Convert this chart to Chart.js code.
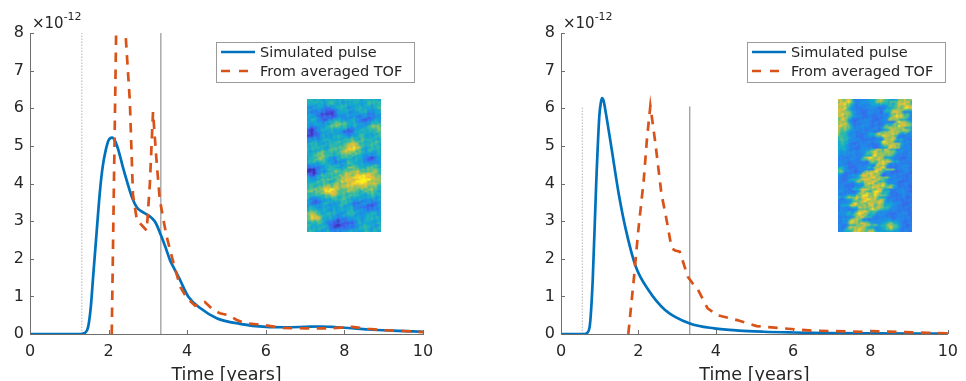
<!DOCTYPE html>
<html>
<head>
<meta charset="utf-8">
<script src="https://cdn.jsdelivr.net/npm/chart.js@4.4.1/dist/chart.umd.min.js"></script>
<style>
  body { margin: 0; background: #fff; }
  #wrap { position: relative; width: 966px; height: 381px; overflow: hidden; }
  canvas { position: absolute; top: 0; }
  #left { left: 0; }
  #right { left: 483px; }
</style>
</head>
<body>
<div id="wrap">
  <canvas id="left" width="483" height="381"></canvas>
  <canvas id="right" width="483" height="381"></canvas>
</div>
<script>
// axis ticks and legend names
const xTicks = [0, 2, 4, 6, 8, 10];
const yTicks = [0, 1, 2, 3, 4, 5, 6, 7, 8];
const seriesNames = ['Simulated pulse', 'From averaged TOF'];

// case A: smooth field
const simTimeA  = [0, 1.3, 1.4, 1.48, 1.55, 1.6, 1.7, 1.78, 1.85, 1.93, 2.0, 2.09, 2.17, 2.26, 2.36, 2.47, 2.6, 2.72, 2.85, 2.97, 3.1, 3.2, 3.33, 3.45, 3.56, 3.7, 3.82, 4.03, 4.33, 4.75, 5.34, 6.0, 6.5, 7.0, 7.4, 7.8, 8.1, 8.6, 9.2, 10];
const simValueA = [0, 0, 0.03, 0.19, 0.75, 1.43, 2.77, 3.8, 4.45, 4.9, 5.15, 5.22, 5.12, 4.85, 4.45, 4.05, 3.62, 3.36, 3.25, 3.18, 3.08, 2.95, 2.63, 2.3, 1.97, 1.68, 1.43, 0.99, 0.69, 0.42, 0.27, 0.19, 0.18, 0.19, 0.2, 0.18, 0.16, 0.12, 0.09, 0.06];
const tofTimeA  = [2.08, 2.2, 2.32, 2.54, 2.62, 2.72, 2.88, 2.97, 3.05, 3.13, 3.22, 3.3, 3.4, 3.48, 3.65, 3.82, 3.99, 4.2, 4.45, 4.65, 4.83, 5.05, 5.25, 5.45, 5.93, 6.44, 7.0, 7.6, 8.2, 8.6, 9.0, 9.5, 10];
const tofValueA = [0, 8.6, 9.8, 6.2, 3.7, 3.03, 2.85, 2.75, 4.0, 5.9, 4.6, 3.6, 3.0, 2.58, 1.89, 1.26, 0.96, 0.75, 0.85, 0.65, 0.55, 0.5, 0.38, 0.29, 0.24, 0.16, 0.15, 0.15, 0.19, 0.14, 0.1, 0.08, 0.05];
const markTimeA = [1.32, 3.33];
const markTopA = 8.6;

// case B: channelized field
const simTimeB  = [0, 0.6, 0.66, 0.74, 0.82, 0.91, 0.99, 1.03, 1.06, 1.1, 1.16, 1.25, 1.33, 1.42, 1.5, 1.67, 1.93, 2.26, 2.69, 3.33, 3.96, 4.6, 5.23, 6.0, 6.9, 8.0, 10];
const simValueB = [0, 0, 0.02, 0.19, 1.43, 4.0, 5.78, 6.15, 6.27, 6.2, 5.87, 5.3, 4.78, 4.18, 3.68, 2.8, 1.8, 1.17, 0.64, 0.28, 0.15, 0.09, 0.06, 0.04, 0.025, 0.015, 0.01];
const tofTimeB  = [1.74, 1.88, 2.0, 2.14, 2.22, 2.31, 2.44, 2.6, 2.7, 2.86, 2.95, 3.07, 3.28, 3.45, 3.54, 3.79, 4.05, 4.55, 5.06, 5.74, 6.5, 7.78, 8.0, 9.47, 10];
const tofValueB = [0, 1.43, 2.77, 4.1, 5.16, 6.06, 5.07, 3.7, 3.2, 2.28, 2.22, 2.19, 1.52, 1.28, 1.18, 0.68, 0.5, 0.37, 0.21, 0.15, 0.09, 0.06, 0.08, 0.03, 0.02];
const markTimeB = [0.55, 3.33];
const markTopB = 6.05;

const textColor = '#262626';
const axisColor = '#6e6e6e';
const fontFamily = '"DejaVu Sans", sans-serif';
const blue = '#0072BD';
const orange = '#D95319';

function toPoints(xs, ys) {
    return xs.map((x, i) => ({ x: x, y: ys[i] }));
}

// parula-like colour ramp for the permeability insets
const ramp = [
    [0.00, 62, 38, 168],
    [0.15, 70, 85, 235],
    [0.30, 35, 135, 235],
    [0.45, 15, 170, 210],
    [0.60, 55, 190, 160],
    [0.75, 160, 195, 85],
    [0.88, 240, 190, 55],
    [1.00, 250, 245, 25]
];

function rampColor(t) {
    t = Math.max(0, Math.min(1, t));
    for (let i = 1; i < ramp.length; i++) {
        if (t <= ramp[i][0]) {
            const a = ramp[i - 1], b = ramp[i];
            const f = (t - a[0]) / (b[0] - a[0]);
            return [0, 1, 2].map(k => Math.round(a[k + 1] + (b[k + 1] - a[k + 1]) * f));
        }
    }
    return ramp[ramp.length - 1].slice(1);
}

// layered sine texture, coarse to fine
function grain(x, y) {
    const n1 = Math.sin(0.31 * x + 0.7 * Math.sin(0.23 * y)) * Math.cos(0.27 * y + 0.9 * Math.sin(0.19 * x));
    const n2 = Math.sin(0.83 * x + 0.41 * y + 1.3) * Math.cos(0.67 * y - 0.52 * x + 0.4);
    const n3 = Math.sin(1.9 * x + 2.3 * Math.sin(0.9 * y)) * Math.sin(2.2 * y + 1.7 * Math.cos(1.1 * x));
    const n4 = Math.sin(1.37 * x - 0.9 * y + 2.1 * Math.cos(0.53 * y)) * Math.cos(1.61 * y + 0.7 * x);
    return 0.45 * n1 + 0.4 * n2 + 0.35 * n3 + 0.3 * n4;
}

function blob(x, y, cx, cy, rx, ry) {
    const dx = (x - cx) / rx, dy = (y - cy) / ry;
    return Math.exp(-(dx * dx + dy * dy));
}

// smooth gaussian-like field
function fieldA(x, y) {
    let v = 0.49;
    v -= 0.4 * blob(x, y, 19, 15, 13, 7);
    v -= 0.36 * blob(x, y, 6, 34, 10, 7);
    v -= 0.48 * blob(x, y, 4, 72, 8, 6);
    v -= 0.28 * blob(x, y, 60, 19, 16, 6);
    v -= 0.25 * blob(x, y, 39, 33, 10, 5);
    v -= 0.28 * blob(x, y, 62, 61, 12, 6);
    v -= 0.4 * blob(x, y, 34, 126, 14, 7);
    v -= 0.3 * blob(x, y, 58, 108, 14, 6);
    v -= 0.22 * blob(x, y, 10, 104, 10, 6);
    v -= 0.18 * blob(x, y, 30, 62, 8, 5);
    v += 0.42 * blob(x, y, 44, 50, 10, 8);
    v += 0.5 * blob(x, y, 55, 81, 22, 10);
    v += 0.42 * blob(x, y, 22, 92, 14, 6);
    v += 0.42 * blob(x, y, 8, 119, 7, 5);
    v += 0.25 * blob(x, y, 34, 26, 8, 4);
    v += 0.22 * blob(x, y, 70, 28, 7, 4);
    v += 0.18 * blob(x, y, 12, 58, 10, 6);
    return v + 0.2 * grain(x, y);
}

// channel centre line, piecewise in depth
const channelRows = [0, 20, 45, 65, 80, 100, 122, 133];
const channelCols = [64, 62, 50, 40, 35, 32, 22, 20];

function channelCentre(y) {
    for (let i = 1; i < channelRows.length; i++) {
        if (y <= channelRows[i]) {
            const f = (y - channelRows[i - 1]) / (channelRows[i] - channelRows[i - 1]);
            return channelCols[i - 1] + (channelCols[i] - channelCols[i - 1]) * f;
        }
    }
    return channelCols[channelCols.length - 1];
}

function fieldB(x, y) {
    let v = 0.28 + 0.1 * grain(x, y);
    const c = channelCentre(y) + 4 * Math.sin(y * 0.3) + 3 * Math.sin(y * 0.8 + 1) + 1.5 * Math.sin(y * 1.7);
    const w = 11 + 3 * Math.sin(y * 0.25) + 2 * Math.sin(y * 0.7 + 2) + 8 * blob(0, y, 0, 98, 1, 12);
    const d = Math.abs(x - c + 2.5 * Math.sin(x * 0.6 + y * 0.4)) / w;
    let band = Math.exp(-Math.pow(d, 4));
    // second channel hugging the left edge near the top
    const c2 = 5 - y * 0.08 + 2 * Math.sin(y * 0.5);
    band = Math.max(band, Math.exp(-Math.pow(Math.abs(x - c2) / 9, 4)) * Math.min(1, Math.max(0, 1.6 - y / 40)));
    band = Math.max(band, 0.9 * blob(x, y, 42, 2, 10, 4));
    band = Math.max(band, 0.95 * blob(x, y, 52, 128, 8, 5));
    band = Math.max(band, 0.85 * blob(x, y, 2, 72, 4, 3));
    v += band * (0.52 + 0.22 * grain(x * 1.3 + 7, y * 1.1 + 3));
    return v;
}

function makeInset(field) {
    const w = 37, h = 67;
    const off = document.createElement('canvas');
    off.width = w; off.height = h;
    const octx = off.getContext('2d');
    const img = octx.createImageData(w, h);
    for (let j = 0; j < h; j++) {
        for (let i = 0; i < w; i++) {
            const col = rampColor(field(i * 2 + 1, j * 2 + 1));
            const k = (j * w + i) * 4;
            img.data[k] = col[0]; img.data[k + 1] = col[1]; img.data[k + 2] = col[2]; img.data[k + 3] = 255;
        }
    }
    octx.putImageData(img, 0, 0);
    return off;
}

const insetPlugin = {
    id: 'inset',
    afterDatasetsDraw(chart, args, opts) {
        const { ctx, chartArea } = chart;
        ctx.save();
        ctx.imageSmoothingEnabled = true;
        ctx.drawImage(opts.image, chartArea.left + 277, chartArea.top + 66, 74, 133);
        ctx.restore();
    }
};

// MATLAB style ticks pointing into the axes
const inwardTicks = {
    id: 'inwardTicks',
    afterDatasetsDraw(chart) {
        const { ctx, chartArea, scales } = chart;
        ctx.save();
        ctx.strokeStyle = axisColor;
        ctx.lineWidth = 1;
        ctx.beginPath();
        xTicks.forEach(t => {
            const px = Math.round(scales.x.getPixelForValue(t)) + 0.5;
            ctx.moveTo(px, chartArea.bottom);
            ctx.lineTo(px, chartArea.bottom - 4);
        });
        yTicks.forEach(t => {
            const py = Math.round(scales.y.getPixelForValue(t)) + 0.5;
            ctx.moveTo(chartArea.left, py);
            ctx.lineTo(chartArea.left + 4, py);
        });
        ctx.stroke();

        // exponent above the y axis
        ctx.fillStyle = textColor;
        ctx.textBaseline = 'alphabetic';
        ctx.font = '15px ' + fontFamily;
        ctx.fillText('×10', chartArea.left + 2, 28);
        const w = ctx.measureText('×10').width;
        ctx.font = '11px ' + fontFamily;
        ctx.fillText('-12', chartArea.left + 2 + w, 20);
        ctx.restore();
    }
};

const legendBox = {
    id: 'legendBox',
    afterDraw(chart) {
        const { ctx, chartArea } = chart;
        const sets = chart.data.datasets;
        const x0 = chartArea.left + 186, y0 = chartArea.top + 9;
        ctx.save();
        ctx.fillStyle = '#fff';
        ctx.fillRect(x0, y0, 198, 40);
        ctx.strokeStyle = '#9a9a9a';
        ctx.lineWidth = 1;
        ctx.strokeRect(x0 + 0.5, y0 + 0.5, 198, 40);
        ctx.font = '14.5px ' + fontFamily;
        ctx.textBaseline = 'middle';
        [0, 1].forEach(i => {
            const y = y0 + 10 + i * 19;
            ctx.strokeStyle = sets[i].borderColor;
            ctx.lineWidth = 2.5;
            ctx.setLineDash(i === 1 ? [9, 9] : []);
            ctx.beginPath();
            ctx.moveTo(x0 + 5, y);
            ctx.lineTo(x0 + 39, y);
            ctx.stroke();
            ctx.setLineDash([]);
            ctx.fillStyle = textColor;
            ctx.fillText(sets[i].label, x0 + 44, y + 1);
        });
        ctx.restore();
    }
};

function makeChart(id, sim, tof, marks, markTop, field, pad) {
    const tickFont = { family: fontFamily, size: 16 };
    return new Chart(document.getElementById(id), {
        type: 'line',
        data: {
            datasets: [
                {
                    label: seriesNames[0], data: sim, borderColor: blue, borderWidth: 2.7,
                    cubicInterpolationMode: 'monotone', pointRadius: 0, order: 1
                },
                {
                    label: seriesNames[1], data: tof, borderColor: orange, borderWidth: 2.7,
                    borderDash: [9.5, 7.5], tension: 0, pointRadius: 0, order: 0
                },
                {
                    label: 'start', data: [{ x: marks[0], y: 0 }, { x: marks[0], y: markTop }],
                    borderColor: '#b4b4b4', borderWidth: 1, borderDash: [1.5, 1.5], pointRadius: 0, order: 2
                },
                {
                    label: 'end', data: [{ x: marks[1], y: 0 }, { x: marks[1], y: markTop }],
                    borderColor: '#808080', borderWidth: 1, pointRadius: 0, order: 2
                }
            ]
        },
        options: {
            responsive: false,
            animation: false,
            devicePixelRatio: 1,
            layout: { padding: pad },
            plugins: {
                legend: { display: false },
                tooltip: { enabled: false },
                inset: { image: makeInset(field) }
            },
            scales: {
                x: {
                    type: 'linear', min: 0, max: 10,
                    afterBuildTicks: s => { s.ticks = xTicks.map(v => ({ value: v })); },
                    ticks: { font: tickFont, color: textColor, padding: 8, maxRotation: 0, autoSkip: false },
                    grid: { display: false, drawTicks: false },
                    border: { display: true, color: axisColor, width: 1 },
                    title: {
                        display: true, text: 'Time [years]', color: textColor,
                        font: { family: fontFamily, size: 17.5 }, padding: { top: 0, bottom: -5 }
                    },
                    afterFit: s => { s.height = 47; }
                },
                y: {
                    type: 'linear', min: 0, max: 8,
                    afterBuildTicks: s => { s.ticks = yTicks.map(v => ({ value: v })); },
                    ticks: { font: tickFont, color: textColor, padding: 6 },
                    grid: { display: false, drawTicks: false },
                    border: { display: true, color: axisColor, width: 1 },
                    afterFit: s => { s.width = 30; }
                }
            }
        },
        plugins: [insetPlugin, inwardTicks, legendBox]
    });
}

makeChart('left', toPoints(simTimeA, simValueA), toPoints(tofTimeA, tofValueA),
    markTimeA, markTopA, fieldA, { left: 0, right: 60, top: 33, bottom: 0 });
makeChart('right', toPoints(simTimeB, simValueB), toPoints(tofTimeB, tofValueB),
    markTimeB, markTopB, fieldB, { left: 48, right: 12, top: 33, bottom: 0 });
</script>
</body>
</html>
